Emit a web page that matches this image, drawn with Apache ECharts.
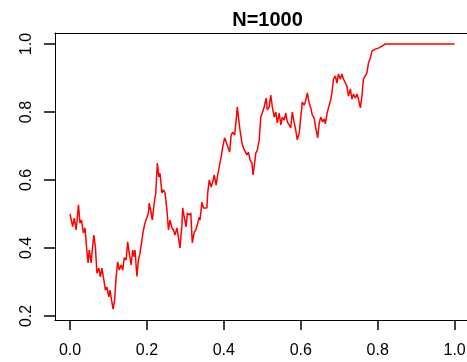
<!DOCTYPE html>
<html>
<head>
<meta charset="utf-8">
<script src="https://cdn.jsdelivr.net/npm/echarts@6/dist/echarts.min.js"></script>
<style>
  html, body { margin: 0; padding: 0; background: #fff; }
  #chart { width: 467px; height: 362px; }
</style>
</head>
<body>
<div id="chart"></div>
<script>
// Path of the running proportion (N = 1000 steps), sampled along the walk.
const stepPos = [
  0.000, 0.007, 0.011, 0.016, 0.022, 0.026, 0.030, 0.035, 0.039, 0.043,
  0.047, 0.050, 0.055, 0.057, 0.062, 0.066, 0.070, 0.075, 0.079, 0.083,
  0.088, 0.092, 0.096, 0.101, 0.104, 0.108, 0.112, 0.116, 0.120, 0.124,
  0.128, 0.133, 0.137, 0.141, 0.146, 0.150, 0.154, 0.159, 0.163, 0.167,
  0.169, 0.174, 0.178, 0.182, 0.187, 0.191, 0.195, 0.200, 0.204, 0.206,
  0.211, 0.214, 0.219, 0.223, 0.227, 0.231, 0.234, 0.239, 0.243, 0.247,
  0.252, 0.256, 0.260, 0.265, 0.269, 0.273, 0.278, 0.282, 0.286, 0.291,
  0.293, 0.297, 0.302, 0.305, 0.310, 0.314, 0.318, 0.323, 0.327, 0.332,
  0.336, 0.338, 0.343, 0.347, 0.351, 0.356, 0.358, 0.362, 0.367, 0.371,
  0.375, 0.380, 0.384, 0.388, 0.393, 0.397, 0.402, 0.406, 0.410, 0.415,
  0.419, 0.423, 0.428, 0.432, 0.435, 0.438, 0.442, 0.447, 0.451, 0.455,
  0.460, 0.464, 0.468, 0.473, 0.476, 0.480, 0.483, 0.487, 0.492, 0.496,
  0.500, 0.505, 0.507, 0.510, 0.513, 0.518, 0.522, 0.526, 0.531, 0.535,
  0.539, 0.544, 0.548, 0.552, 0.557, 0.561, 0.565, 0.570, 0.574, 0.578,
  0.583, 0.587, 0.591, 0.596, 0.600, 0.604, 0.609, 0.613, 0.617, 0.622,
  0.626, 0.630, 0.635, 0.639, 0.644, 0.648, 0.652, 0.657, 0.661, 0.664,
  0.668, 0.672, 0.677, 0.681, 0.685, 0.690, 0.694, 0.698, 0.703, 0.707,
  0.711, 0.716, 0.720, 0.724, 0.729, 0.733, 0.737, 0.742, 0.746, 0.750,
  0.755, 0.759, 0.763, 0.768, 0.772, 0.776, 0.781, 0.785, 0.789, 0.794,
  0.802, 0.811, 0.820, 1.000
];
const proportion = [
  0.500, 0.463, 0.488, 0.453, 0.527, 0.473, 0.482, 0.444, 0.459, 0.403,
  0.356, 0.394, 0.356, 0.385, 0.438, 0.403, 0.326, 0.341, 0.315, 0.341,
  0.306, 0.276, 0.285, 0.256, 0.276, 0.247, 0.220, 0.247, 0.315, 0.359,
  0.335, 0.350, 0.335, 0.371, 0.365, 0.418, 0.385, 0.350, 0.394, 0.374,
  0.394, 0.316, 0.365, 0.385, 0.424, 0.453, 0.473, 0.468, 0.503, 0.532,
  0.503, 0.482, 0.532, 0.562, 0.650, 0.609, 0.620, 0.562, 0.571, 0.562,
  0.512, 0.453, 0.482, 0.459, 0.453, 0.438, 0.459, 0.432, 0.400, 0.468,
  0.518, 0.491, 0.462, 0.503, 0.497, 0.503, 0.415, 0.447, 0.453, 0.473,
  0.491, 0.482, 0.535, 0.518, 0.521, 0.518, 0.562, 0.600, 0.579, 0.594,
  0.615, 0.585, 0.615, 0.620, 0.668, 0.697, 0.724, 0.712, 0.709, 0.682,
  0.732, 0.741, 0.732, 0.776, 0.815, 0.785, 0.747, 0.709, 0.694, 0.697,
  0.674, 0.682, 0.659, 0.650, 0.615, 0.650, 0.679, 0.688, 0.718, 0.785,
  0.797, 0.815, 0.826, 0.841, 0.806, 0.815, 0.850, 0.815, 0.785, 0.800,
  0.768, 0.797, 0.762, 0.785, 0.776, 0.797, 0.771, 0.776, 0.753, 0.800,
  0.768, 0.747, 0.718, 0.738, 0.785, 0.829, 0.820, 0.835, 0.856, 0.826,
  0.812, 0.791, 0.782, 0.753, 0.724, 0.768, 0.785, 0.771, 0.780, 0.765,
  0.794, 0.812, 0.832, 0.856, 0.897, 0.906, 0.885, 0.912, 0.897, 0.912,
  0.897, 0.900, 0.876, 0.847, 0.868, 0.838, 0.853, 0.841, 0.853, 0.838,
  0.812, 0.847, 0.897, 0.900, 0.915, 0.944, 0.959, 0.979, 0.982, 0.985,
  0.988, 0.994, 1.000, 1.000
];
const xTicks = [0.0, 0.2, 0.4, 0.6, 0.8, 1.0];
const yTicks = [0.2, 0.4, 0.6, 0.8, 1.0];
const titleText = 'N=1000';

const FONT = 'Liberation Sans, Arial, sans-serif';
const chart = echarts.init(document.getElementById('chart'), null, { renderer: 'canvas' });

const X_RANGE = { min: -0.039, max: 1.04 };
const Y_RANGE = { min: 0.1882, max: 1.0324 };

chart.setOption({
  animation: false,
  title: {
    text: titleText,
    left: 262.5,
    top: 5,
    textAlign: 'center',
    textStyle: { color: '#000', fontSize: 20, fontWeight: 'bold', fontFamily: FONT }
  },
  grid: { left: 55, top: 33, width: 415, height: 287, outerBoundsMode: 'none' },
  xAxis: [{
    type: 'value', position: 'bottom', min: X_RANGE.min, max: X_RANGE.max,
    axisLine: { show: true, onZero: false, lineStyle: { color: '#000', width: 1 } },
    splitLine: { show: false },
    axisTick: { show: true, length: 10, lineStyle: { color: '#000', width: 1.5 }, customValues: xTicks },
    axisLabel: {
      customValues: xTicks, margin: 23, color: '#000', fontSize: 16, fontFamily: FONT,
      formatter: v => v.toFixed(1)
    }
  }, {
    // top edge of the frame
    type: 'value', position: 'top', min: X_RANGE.min, max: X_RANGE.max,
    axisLine: { show: true, onZero: false, lineStyle: { color: '#000', width: 1 } },
    axisTick: { show: false }, axisLabel: { show: false }, splitLine: { show: false }
  }],
  yAxis: [{
    type: 'value', position: 'left', min: Y_RANGE.min, max: Y_RANGE.max,
    axisLine: { show: true, onZero: false, lineStyle: { color: '#000', width: 1 } },
    splitLine: { show: false },
    axisTick: { show: true, length: 11, lineStyle: { color: '#000', width: 1.5 }, customValues: yTicks },
    axisLabel: {
      customValues: yTicks, margin: 20, rotate: 90, color: '#000', fontSize: 16, fontFamily: FONT,
      formatter: v => v.toFixed(1)
    }
  }, {
    // right edge of the frame
    type: 'value', position: 'right', min: Y_RANGE.min, max: Y_RANGE.max,
    axisLine: { show: true, onZero: false, lineStyle: { color: '#000', width: 1 } },
    axisTick: { show: false }, axisLabel: { show: false }, splitLine: { show: false }
  }],
  series: [{
    type: 'line',
    xAxisIndex: 0,
    yAxisIndex: 0,
    data: stepPos.map((x, i) => [x, proportion[i]]),
    showSymbol: false,
    lineStyle: { color: '#ff0000', width: 1.5 },
    clip: true
  }]
});
</script>
</body>
</html>
